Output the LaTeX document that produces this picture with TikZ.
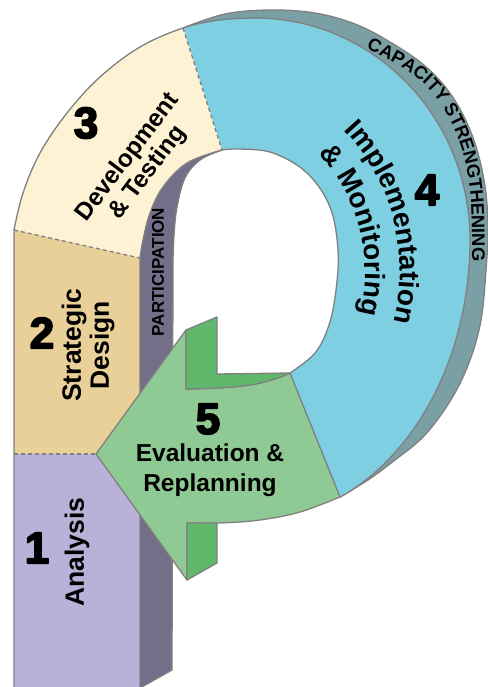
\documentclass[tikz,border=0pt]{standalone}
\usepackage{fontspec}
\setmainfont{Liberation Sans}
\newfontfamily\numfont{Liberation Sans Bold}[FakeBold=4]
\usetikzlibrary{decorations.text}
\definecolor{cream}{HTML}{FEF2D4}
\definecolor{tanc}{HTML}{E9CF98}
\definecolor{lavc}{HTML}{B9B1D7}
\definecolor{purpc}{HTML}{746F88}
\definecolor{bluec}{HTML}{7ECFE2}
\definecolor{bandc}{HTML}{7AA0A5}
\definecolor{lgreen}{HTML}{8FCA95}
\definecolor{dgreen}{HTML}{5FB86B}
\definecolor{edgec}{HTML}{808080}
\begin{document}
\begin{tikzpicture}[x=1pt,y=-1pt,line join=round,
 edge/.style={draw=edgec,line width=1.3pt},
 divider/.style={draw=edgec,line width=1.3pt,dash pattern=on 4pt off 3pt},
 lbl/.style={font=\bfseries\fontsize{26.5}{28}\selectfont,align=center,inner sep=0pt,text=black},
 lblb/.style={font=\bfseries\fontsize{24.5}{25}\selectfont,align=center,inner sep=0pt,text=black},
 num/.style={font=\numfont\fontsize{44}{44}\selectfont,inner sep=0pt}]
\useasboundingbox (0,0) rectangle (487,687);

% capacity strengthening band
\fill[bandc] plot[smooth,tension=0.6] coordinates {(183,28)(225,14)(270,10)(315,13)(355,24)(390,42)(425,66)(452,96)(472,135)(484,180)(488,225)(486,270)(481,320)(470,360)(452,398)(425,435)(395,460)(368,480)(340,497)} -- (400,300) -- (300,60) -- cycle;
\draw[edge] plot[smooth,tension=0.6] coordinates {(183,28)(225,14)(270,10)(315,13)(355,24)(390,42)(425,66)(452,96)(472,135)(484,180)(488,225)(486,270)(481,320)(470,360)(452,398)(425,435)(395,460)(368,480)(340,497)};

% main P-shaped body
\begin{scope}
\clip (14,700) -- (14,230) -- plot[smooth,tension=0.6] coordinates {(14,230)(23,193)(40,153)(67,113)(100,77)(140,47)(183,28)(220,20)(255,18)} arc[start angle=-90,end angle=0,x radius=215,y radius=222] arc[start angle=0,end angle=66.71,x radius=215,y radius=280] -- (290,373) -- plot[smooth,tension=0.6] coordinates {(290,373)(315,353)(329,325)(336,290)(338,250)(330,207)(307,173)(273,153)(240,149)(222,150)} -- plot[smooth,tension=0.6] coordinates {(222,150)(200,160)(185,178)(177,207)(174,235)(173,260)} -- (172,670) -- (140,688) -- (140,700) -- cycle;
\fill[bluec] (0,0) rectangle (487,700);
\fill[cream] (0,-10) -- (171.2,-10) -- (265.4,285.9) -- (0,226.9) -- cycle;
\fill[tanc] (0,226.9) -- (140,258) -- (140,454) -- (0,454) -- cycle;
\fill[lavc] (0,454) rectangle (140,700);
\end{scope}

% participation side wall
\fill[purpc] plot[smooth,tension=0.6] coordinates {(222,150)(187,163)(163,187)(150,213)(143,240)(140,258)} -- (140,688) -- (172,670) -- (173,260) -- plot[smooth,tension=0.6] coordinates {(173,260)(174,235)(177,207)(185,178)(200,160)(222,150)} -- cycle;

% outlines
\draw[edge] (14,700) -- (14,230) -- plot[smooth,tension=0.6] coordinates {(14,230)(23,193)(40,153)(67,113)(100,77)(140,47)(183,28)(220,20)(255,18)} arc[start angle=-90,end angle=0,x radius=215,y radius=222] arc[start angle=0,end angle=66.71,x radius=215,y radius=280];
\draw[edge] plot[smooth,tension=0.6] coordinates {(290,373)(315,353)(329,325)(336,290)(338,250)(330,207)(307,173)(273,153)(240,149)(222,150)};
\draw[edge] plot[smooth,tension=0.6] coordinates {(222,150)(200,160)(185,178)(177,207)(174,235)(173,260)} -- (172,670) -- (140,688);
\draw[edge] plot[smooth,tension=0.6] coordinates {(222,150)(187,163)(163,187)(150,213)(143,240)(140,258)} -- (140,700);
\draw[divider] (14,230) -- (140,258);
\draw[divider] (183,28) -- (222,150);
\draw[divider] (14,454) -- (96,454);

% evaluation arrow
\path[fill=lgreen,edge] (96,454) -- (186,330) -- (186,389) -- plot[smooth,tension=0.6] coordinates {(186,389)(217,388)(250,385)(275,379)(290,373)} -- (340,497) -- plot[smooth,tension=0.6] coordinates {(340,497)(300,512)(260,520)(220,523)(187,523)} -- (187,580) -- cycle;
\path[fill=dgreen,edge] (186,330) -- (217,317) -- (217,374) -- (290,373) -- plot[smooth,tension=0.6] coordinates {(290,373)(275,379)(250,385)(217,388)(186,389)} -- cycle;
\path[fill=dgreen,edge] (187,523) -- (217,523) -- (217,563) -- (187,580) -- cycle;

% numbers
\node[num] (n1) at (37,548) {1};
\node[num] (n2) at (42,333) {2};
\node[num] (n3) at (86,123) {3};
\node[num] (n4) at (427,190) {4};
\node[num] (n5) at (208,419) {5};

% labels
\node[lbl,rotate=90] (t1) at (77,552) {Analysis};
\node[lbl,rotate=90] (t2) at (88,345) {Strategic\\Design};
\node[lblb,rotate=53] (t3) at (138,165) {Development\\\& Testing};
\node[lblb,font=\bfseries\fontsize{24.5}{30}\selectfont] (t5) at (210,470) {Evaluation \&\\Replanning};
\node[rotate=90,inner sep=0pt,font=\bfseries\fontsize{17}{17}\selectfont] (tp) at (158,272) {PARTICIPATION};
\coordinate (tc) at (195,271);
\path[decorate,decoration={text along path,text align=center,text={|\bfseries\fontsize{28}{28}\selectfont|Implementation}}] (tc) ++(-74.5:205) arc[start angle=-74.5,end angle=45.5,radius=205];
\path[decorate,decoration={text along path,text align=center,text={|\bfseries\fontsize{28}{28}\selectfont|{\&} Monitoring}}] (tc) ++(-74.5:170) arc[start angle=-74.5,end angle=45.5,radius=170];
\path[decorate,decoration={text along path,text align=left,text={|\bfseries\fontsize{18.3}{18.3}\selectfont|CAPACITY STRENGTHENING}}] plot[smooth,tension=0.6] coordinates {(366,49)(400,66)(428,88)(449,118)(463,153)(470,190)(472,230)(472,290)};
\end{tikzpicture}
\end{document}
